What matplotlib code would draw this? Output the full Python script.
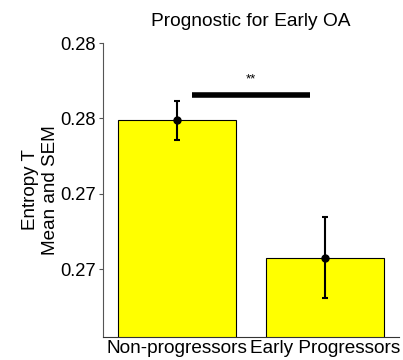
import matplotlib
matplotlib.use("Agg")
import matplotlib.pyplot as plt

# data
groups = ["Non-progressors", "Early Progressors"]
means = [0.27487, 0.26577]
sems = [0.00129, 0.00270]
yticks = [0.265, 0.27, 0.275, 0.28]
ytick_labels = ["0.27", "0.27", "0.28", "0.28"]

plt.rcParams['font.family'] = ['Liberation Sans', 'DejaVu Sans']

fig = plt.figure(figsize=(4.03, 3.60), dpi=100)
ax = fig.add_axes([103 / 403, 1 - 337 / 360, 296 / 403, 294 / 360])

x = [1, 2]
ax.bar(x, means, width=0.8, color="#ffff00", edgecolor="black", linewidth=0.8, zorder=2)
ax.errorbar(x, means, yerr=sems, fmt="o", color="black", markersize=5,
            elinewidth=1.5, capsize=2, capthick=1.5, zorder=3)

# significance bar
ax.plot([1.098, 1.902], [0.27658, 0.27658], color="black", linewidth=4, solid_capstyle="butt", zorder=3)
ax.text(1.5, 0.27758, "**", ha="center", va="center", fontsize=9.5)

ax.set_xlim(0.5, 2.5)
ax.set_ylim(0.2605, 0.28)
ax.set_yticks(yticks)
ax.set_yticklabels(ytick_labels, fontsize=13.2)
ax.set_xticks(x)
ax.set_xticklabels(groups, fontsize=13.7)
ax.tick_params(axis="x", length=0, pad=2)
ax.tick_params(axis="y", length=3, direction="out", color="#555555", pad=2)

ax.spines["top"].set_visible(False)
ax.spines["right"].set_visible(False)
ax.spines["left"].set_color("#555555")
ax.spines["bottom"].set_color("#333333")

ax.set_ylabel("Entropy T\nMean and SEM", fontsize=13.6, linespacing=1.2, labelpad=1)
ax.set_title("Prognostic for Early OA", fontsize=13.8, pad=12)

fig.savefig("out.png", dpi=100)
